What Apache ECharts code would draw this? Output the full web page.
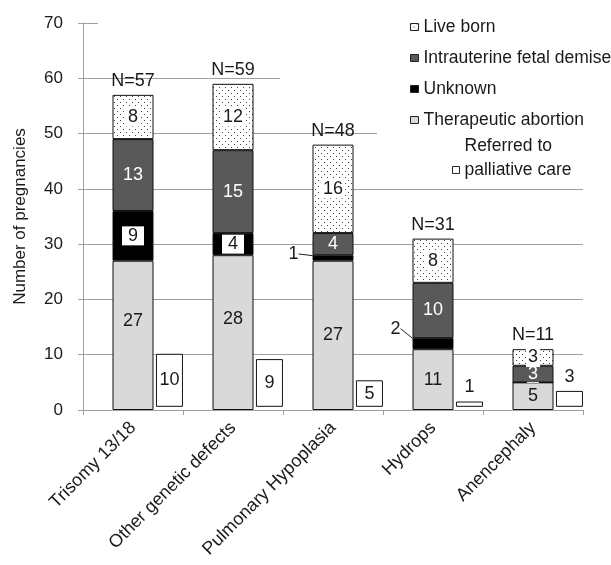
<!DOCTYPE html>
<html lang="en">
<head>
  <meta charset="UTF-8">
  <title>Pregnancy outcomes by diagnosis</title>
  <script src="https://cdn.jsdelivr.net/npm/echarts@6/dist/echarts.min.js"></script>
  <style>
    html, body { margin: 0; padding: 0; background: #fff; }
    #chart { width: 611px; height: 565px; }
  </style>
</head>
<body>
  <div id="chart"></div>
  <script>
    // data
    const categories = ['Trisomy 13/18', 'Other genetic defects', 'Pulmonary Hypoplasia', 'Hydrops', 'Anencephaly'];
    const therapeutic = [27, 28, 27, 11, 5];
    const unknown = [9, 4, 1, 2, 0];
    const fetalDemise = [13, 15, 4, 10, 3];
    const liveBorn = [8, 12, 16, 8, 3];
    const palliative = [10, 9, 5, 1, 3];
    const totals = [57, 59, 48, 31, 11];
    const yTicks = [0, 10, 20, 30, 40, 50, 60, 70];

    const FONT = '"Liberation Sans", Arial, sans-serif';
    const TXT = '#1a1a1a';
    const AXIS = '#a0a0a0';

    // dotted fill for live born
    function dotPattern() {
      const c = document.createElement('canvas');
      c.width = 6; c.height = 6;
      const g = c.getContext('2d');
      g.fillStyle = '#fff';
      g.fillRect(0, 0, 6, 6);
      g.fillStyle = '#444';
      g.fillRect(0, 0, 1, 1);
      g.fillRect(3, 3, 1, 1);
      return { image: c, repeat: 'repeat' };
    }

    const chart = echarts.init(document.getElementById('chart'), null, { renderer: 'canvas' });

    const border = { borderColor: '#111', borderWidth: 1 };
    const boxLabel = { backgroundColor: '#fff', padding: [1, 6, 0, 6], color: TXT };

    const option = {
      animation: false,
      textStyle: { fontFamily: FONT },
      grid: { left: 83, right: 28, top: 23, bottom: 155 },
      legend: [{
        data: ['Live born', 'Intrauterine fetal demise', 'Unknown', 'Therapeutic abortion'],
        orient: 'vertical',
        left: 410, top: 18,
        itemWidth: 8, itemHeight: 7, itemGap: 13,
        padding: 0,
        icon: 'rect',
        itemStyle: { borderColor: '#222', borderWidth: 1 },
        textStyle: { fontSize: 17.5, color: TXT, fontFamily: FONT }
      }, {
        data: ['Referred to palliative care'],
        left: 452, top: 137,
        itemWidth: 7, itemHeight: 7,
        padding: 0,
        icon: 'rect',
        itemStyle: { borderColor: '#222', borderWidth: 1 },
        formatter: () => '{a|Referred to}\n{b|palliative care}',
        textStyle: {
          fontSize: 17.5, color: TXT, fontFamily: FONT,
          padding: [0, 0, 24, 0],
          rich: {
            a: { fontSize: 17.5, lineHeight: 24, color: TXT, fontFamily: FONT },
            b: { fontSize: 17.5, lineHeight: 24, color: TXT, fontFamily: FONT }
          }
        }
      }],
      // white strips where the legend box hides the upper grid lines
      graphic: [
        { type: 'rect', z: 1, shape: { x: 98, y: 17, width: 500, height: 12 }, style: { fill: '#fff' } },
        { type: 'rect', z: 1, shape: { x: 280, y: 74, width: 320, height: 11 }, style: { fill: '#fff' } },
        { type: 'rect', z: 1, shape: { x: 377, y: 129, width: 220, height: 11 }, style: { fill: '#fff' } }
      ],
      xAxis: [{
        type: 'category',
        data: categories,
        axisLine: { lineStyle: { color: AXIS } },
        axisTick: { show: true, length: 5, lineStyle: { color: AXIS } },
        axisLabel: { rotate: 45, fontSize: 18, color: TXT, margin: 15, interval: 0, fontFamily: FONT }
      }, {
        type: 'category',
        data: categories,
        show: false
      }],
      yAxis: [{
        type: 'value',
        min: yTicks[0], max: yTicks[yTicks.length - 1], interval: 10,
        name: 'Number of pregnancies',
        nameLocation: 'middle',
        nameGap: 54,
        nameTextStyle: { fontSize: 17, color: TXT, fontFamily: FONT },
        axisLine: { show: true, lineStyle: { color: AXIS } },
        axisTick: { show: true, length: 5, lineStyle: { color: AXIS } },
        axisLabel: { fontSize: 17, color: TXT, margin: 20, fontFamily: FONT },
        splitLine: { show: true, lineStyle: { color: AXIS, width: 1 } }
      }, {
        // palliative bars sit a few pixels above the baseline in the original
        type: 'value', min: -0.6, max: 72.4, show: false
      }],
      series: [{
        name: 'Therapeutic abortion',
        type: 'bar', stack: 'out', barWidth: 41,
        itemStyle: Object.assign({ color: '#d9d9d9' }, border),
        label: { show: true, position: 'inside', fontSize: 18, color: TXT },
        data: therapeutic.map((v, i) => i < 2 ? { value: v, label: { offset: [0, -14] } } : v)
      }, {
        name: 'Unknown',
        type: 'bar', stack: 'out', barWidth: 41,
        itemStyle: Object.assign({ color: '#000' }, border),
        label: Object.assign({
          show: true, position: 'inside', fontSize: 18,
          formatter: p => p.value ? p.value : ''
        }, boxLabel),
        labelLine: { show: true, lineStyle: { color: '#222', width: 1 } },
        data: unknown.map(v => v > 0 && v < 3
          ? { value: v, label: { position: 'left', distance: 14, backgroundColor: 'transparent', padding: 0 } }
          : v),
        labelLayout: p => {
          if (p.dataIndex === 2) return { dx: 0, dy: -4 };
          if (p.dataIndex === 3) return { dx: 2, dy: -15 };
          return {};
        }
      }, {
        name: 'Intrauterine fetal demise',
        type: 'bar', stack: 'out', barWidth: 41,
        itemStyle: Object.assign({ color: '#595959' }, border),
        label: { show: true, position: 'inside', fontSize: 18, color: '#fff' },
        data: fetalDemise
      }, {
        name: 'Live born',
        type: 'bar', stack: 'out', barWidth: 41,
        itemStyle: Object.assign({ color: dotPattern() }, border),
        label: Object.assign({ show: true, position: 'inside', fontSize: 18 }, boxLabel, { padding: [1, 2, 0, 2] }),
        data: liveBorn
      }, {
        name: 'N',
        type: 'bar', stack: 'out', barWidth: 41,
        itemStyle: { color: 'transparent', borderWidth: 0 },
        label: {
          show: true, position: 'top', distance: 5, fontSize: 18, color: TXT,
          formatter: p => 'N=' + totals[p.dataIndex]
        },
        data: totals.map(() => 0)
      }, {
        // empty placeholder that pushes the palliative bars to the right
        name: 'spacer',
        type: 'bar', xAxisIndex: 1, yAxisIndex: 1, barWidth: 27, barGap: '170%',
        data: categories.map(() => null)
      }, {
        name: 'Referred to palliative care',
        type: 'bar', xAxisIndex: 1, yAxisIndex: 1, barWidth: 27, barGap: '170%',
        itemStyle: Object.assign({ color: '#fff' }, border),
        label: { show: true, position: 'inside', fontSize: 18, color: TXT },
        data: palliative.map(v => v < 4 ? { value: v, label: { position: 'top', distance: 5 } } : v)
      }]
    };

    chart.setOption(option);
    window.addEventListener('resize', () => chart.resize());
  </script>
</body>
</html>
